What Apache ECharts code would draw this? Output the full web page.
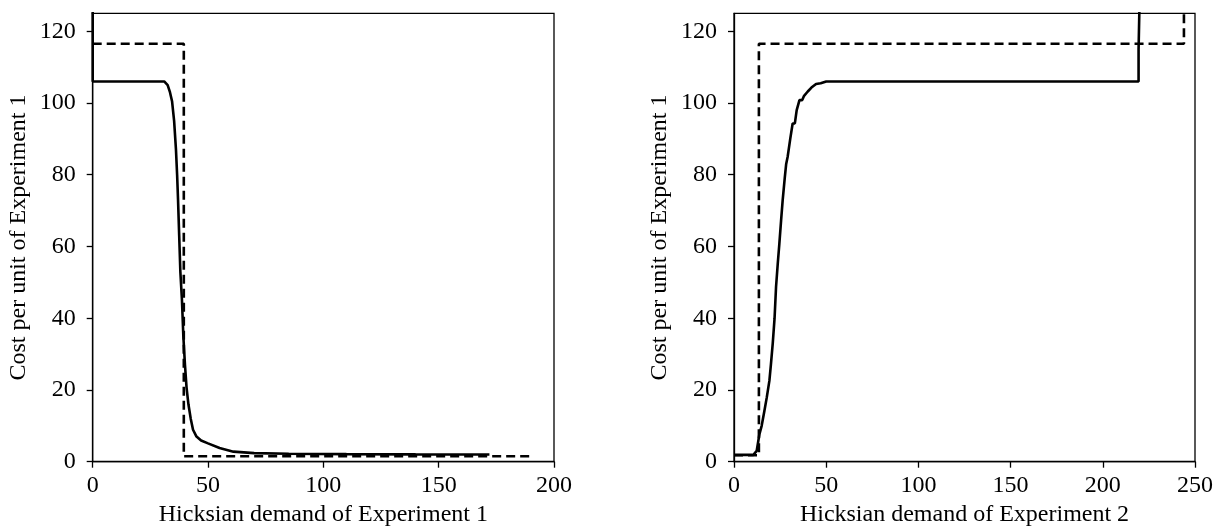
<!DOCTYPE html>
<html>
<head>
<meta charset="utf-8">
<script src="https://cdn.jsdelivr.net/npm/echarts@6/dist/echarts.min.js"></script>
<style>
  html, body { margin: 0; padding: 0; background: #fff; }
  #chart { width: 1214px; height: 529px; }
</style>
</head>
<body>
<div id="chart"></div>
<script>
// Experiment 1: observed Hicksian demand (solid) and the step bound (dashed)
const exp1Demand = [
  [0, 130], [0, 106], [31, 106], [32.5, 105], [33.5, 103], [34.4, 100.5], [35.3, 95],
  [36.1, 87], [36.6, 80], [37, 73], [37.5, 63], [38, 53], [38.7, 45], [39.3, 35],
  [40, 27], [40.7, 20.6], [41.5, 16], [42.5, 12], [43.5, 8.9], [45, 7], [47, 5.9],
  [50, 5.1], [55, 3.8], [61, 2.8], [70, 2.4], [85, 2.2], [110, 2.1], [140, 2.05], [172, 2.0]
];
const exp1Bound = [
  [0, 116.5], [39.5, 116.5], [39.5, 1.5], [191, 1.5]
];

// Experiment 2: observed Hicksian demand (solid) and the step bound (dashed)
const exp2Demand = [
  [0, 1.9], [10.5, 1.9], [12.3, 3], [13.8, 7.7], [15, 10], [16.5, 14.2], [17.8, 18],
  [19.2, 22.6], [20, 27], [21, 32.9], [22, 40], [22.8, 48.7], [23.7, 55], [24.6, 60.8],
  [25.5, 67], [26.4, 72.9], [27.5, 79], [28.3, 83], [29.1, 85], [30.5, 90], [31.8, 94.3],
  [33, 94.3], [34, 98], [35.5, 100.8], [37, 100.8], [38, 102], [40, 103.2], [42, 104.3],
  [44.5, 105.3], [47, 105.5], [50, 106], [219.4, 106], [219.4, 115], [220, 115], [220, 130]
];
const exp2Bound = [
  [0, 1.8], [13.5, 1.8], [13.5, 116.5], [244, 116.5], [244, 130]
];

const yTicks = [0, 20, 40, 60, 80, 100, 120];
const xLabels = ['Hicksian demand of Experiment 1', 'Hicksian demand of Experiment 2'];
const yLabel = 'Cost per unit of Experiment 1';

const font = 'Liberation Serif';
const ink = '#000';

function xAxisFor(idx, max) {
  return {
    type: 'value', gridIndex: idx, min: 0, max: max, interval: 50,
    name: xLabels[idx], nameLocation: 'middle', nameGap: 41,
    nameTextStyle: { fontFamily: font, fontSize: 24, color: ink },
    axisLine: { show: true, onZero: false, lineStyle: { color: ink, width: 1.3 } },
    axisTick: { show: true, inside: false, length: 6, lineStyle: { color: ink, width: 1.3 } },
    axisLabel: { fontFamily: font, fontSize: 24, color: ink, margin: 12 },
    splitLine: { show: false }
  };
}
function yAxisFor(idx) {
  return {
    type: 'value', gridIndex: idx, min: yTicks[0], max: 125, interval: yTicks[1] - yTicks[0],
    name: yLabel, nameLocation: 'middle', nameGap: 62, nameRotate: 90,
    nameTextStyle: { fontFamily: font, fontSize: 24, color: ink },
    axisLine: { show: true, onZero: false, lineStyle: { color: ink, width: 1.3 } },
    axisTick: { show: true, inside: false, length: 6, lineStyle: { color: ink, width: 1.3 } },
    axisLabel: { fontFamily: font, fontSize: 24, color: ink, margin: 17, showMaxLabel: false },
    splitLine: { show: false }
  };
}
function solid(idx, data) {
  return {
    type: 'line', xAxisIndex: idx, yAxisIndex: idx, data: data, showSymbol: false,
    clip: true, lineStyle: { color: ink, width: 2.6, type: 'solid' }, z: 3
  };
}
function dashed(idx, data) {
  return {
    type: 'line', xAxisIndex: idx, yAxisIndex: idx, data: data, showSymbol: false,
    clip: true, lineStyle: { color: ink, width: 2.6, type: [9, 5] }, z: 2
  };
}

const chart = echarts.init(document.getElementById('chart'), null, { renderer: 'canvas' });
chart.setOption({
  animation: false,
  backgroundColor: '#fff',
  grid: [
    { left: 92.7, top: 13.3, width: 461.3, height: 448.4, outerBoundsMode: 'none', containLabel: false,
      show: true, borderColor: ink, borderWidth: 1.3, backgroundColor: 'transparent' },
    { left: 734, top: 13.3, width: 461, height: 448.4, outerBoundsMode: 'none', containLabel: false,
      show: true, borderColor: ink, borderWidth: 1.3, backgroundColor: 'transparent' }
  ],
  xAxis: [xAxisFor(0, 200), xAxisFor(1, 250)],
  yAxis: [yAxisFor(0), yAxisFor(1)],
  series: [
    solid(0, exp1Demand), dashed(0, exp1Bound),
    solid(1, exp2Demand), dashed(1, exp2Bound)
  ]
});
</script>
</body>
</html>
